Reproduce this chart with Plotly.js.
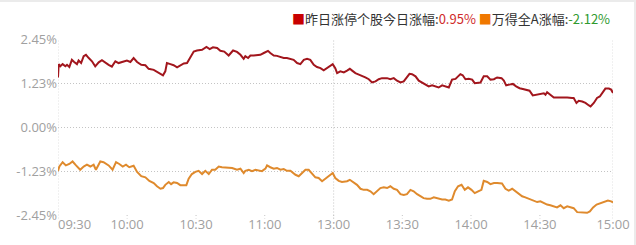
<!DOCTYPE html>
<html>
<head>
<meta charset="utf-8">
<script src="https://cdn.plot.ly/plotly-3.0.1.min.js"></script>
<style>
  html, body { margin: 0; padding: 0; background: #ffffff; }
  #wrap { position: relative; width: 636px; height: 245px; overflow: hidden; }
  #chart { position: absolute; left: 0; top: 0; width: 636px; height: 245px; }
  #bandTop { position: absolute; left: 0; top: 0; width: 636px; height: 2px; background: #ebebeb; }
  #bandRight { position: absolute; left: 634px; top: 0; width: 2px; height: 245px; background: #ebebeb; }
</style>
</head>
<body>
<div id="wrap">
  <div id="chart"></div>
  <div id="bandTop"></div>
  <div id="bandRight"></div>
</div>
<script>
// x = trading minutes since 09:30 (0..240, lunch break removed)
const redT = [0,0.3,1.0,2.0,3.2,3.9,4.9,6.0,7.0,8.2,8.9,10.0,11.1,12.1,13.3,14.7,16.1,17.6,19.0,20.5,21.9,23.3,24.8,26.2,27.7,29.8,31.3,32.7,34.2,36.0,37.8,39.2,
  41.4,42.8,44.3,45.4,46.4,47.1,48.6,50.0,51.5,52.9,54.4,55.8,57.2,58.7,60.1,62.3,64.2,65.6,67.0,68.8,70.2,71.9,73.8,75.7,77.4,78.9,80.3,
  81.0,82.2,83.2,84.6,86.1,87.5,89.0,90.8,91.8,93.3,94.7,96.2,97.6,99.0,100.5,101.9,103.4,104.8,106.3,107.7,109.1,110.6,112.0,113.5,114.9,116.4,117.8,118.8,119.9,120.7,122.1,
  123.6,125.0,126.2,127.2,128.6,130.1,131.5,132.9,134.4,135.8,137.3,138.7,140.1,142.3,143.7,145.2,146.6,148.1,149.5,150.9,152.0,153.1,154.6,156.0,157.4,158.9,160.3,161.8,163.2,164.6,
  166.1,167.5,169.0,170.4,171.9,173.0,174.0,175.0,176.2,177.6,179.1,180.2,181.7,182.7,184.1,185.6,187.0,188.5,189.9,191.8,192.8,193.8,195.2,196.7,198.1,199.6,201.0,202.4,203.9,205.3,
  207.2,208.6,210.1,210.8,211.5,212.9,214.4,215.8,217.3,218.7,220.2,222.3,223.0,224.2,225.2,226.7,228.1,229.6,230.3,231.7,233.1,234.3,235.7,236.7,238.2,239.2,240];
const redV = [1.38,1.75,1.69,1.75,1.69,1.73,1.67,1.87,1.81,1.75,1.85,1.78,1.97,2.01,1.92,1.83,1.69,1.80,1.86,1.78,1.73,1.68,1.83,1.78,1.81,1.85,1.81,1.92,1.81,1.73,1.72,1.62,
  1.59,1.53,1.47,1.44,1.55,1.78,1.75,1.72,1.66,1.72,1.77,1.78,1.92,2.10,2.13,2.15,2.23,2.17,2.22,2.20,2.12,2.10,1.99,2.13,2.09,2.01,1.90,
  1.97,1.92,1.99,1.99,1.99,2.01,2.06,2.12,2.06,1.99,1.98,1.95,1.92,1.92,1.90,1.87,1.78,1.75,1.87,1.90,1.87,1.73,1.67,1.64,1.58,1.64,1.69,1.75,1.64,1.50,1.55,
  1.52,1.57,1.62,1.57,1.50,1.46,1.41,1.38,1.33,1.24,1.27,1.33,1.36,1.36,1.33,1.36,1.29,1.24,1.27,1.38,1.48,1.47,1.41,1.29,1.24,1.20,1.13,1.16,1.13,1.10,
  1.16,1.13,1.10,1.32,1.34,1.41,1.47,1.44,1.33,1.34,1.32,1.22,1.22,1.24,1.41,1.41,1.32,1.33,1.38,1.36,1.29,1.16,1.18,1.20,1.13,1.08,1.06,1.04,1.01,0.88,
  0.90,0.92,0.94,0.90,0.97,0.90,0.82,0.82,0.82,0.84,0.82,0.81,0.81,0.67,0.73,0.71,0.67,0.60,0.57,0.67,0.81,0.85,0.99,1.07,1.07,1.04,0.95];

const orgT = [0,0.6,2.0,3.4,4.9,6.3,7.8,9.6,11.1,12.5,14.0,15.4,16.4,18.3,19.7,21.9,23.6,25.1,26.5,28.0,29.4,30.8,32.7,34.2,36.0,37.8,39.5,
  41.4,42.8,44.3,45.4,46.4,47.9,48.9,50.0,51.5,52.9,54.4,55.5,56.5,57.9,59.4,60.8,62.3,63.7,65.2,66.6,68.0,69.5,70.9,73.1,75.3,77.4,78.9,80.3,
  81.0,82.5,83.9,85.4,86.8,88.2,89.7,90.4,91.8,93.3,94.7,96.2,97.6,99.0,100.5,102.7,104.1,105.5,107.0,108.4,109.9,111.3,112.7,114.2,115.6,117.1,118.8,119.9,121.4,122.8,
  123.6,125.0,126.2,127.9,129.3,130.8,132.2,133.7,135.1,136.5,138.0,139.4,140.9,142.3,143.7,145.2,146.6,148.1,149.5,150.9,152.4,153.8,155.3,156.7,158.1,159.6,161.0,162.5,
  164.7,166.1,167.5,169.0,170.4,171.6,173.0,174.5,175.9,177.3,178.8,180.2,181.7,183.1,184.1,185.6,187.0,188.5,189.9,192.0,193.5,194.9,196.4,197.8,199.2,200.7,202.1,203.6,
  205.7,207.2,208.6,210.1,211.5,212.9,214.4,215.8,217.3,218.7,220.2,221.6,223.0,224.5,225.9,227.4,228.8,230.0,231.4,232.9,234.6,236.0,237.8,239.2,240];
const orgV = [-1.22,-1.10,-0.98,-1.07,-1.03,-0.96,-1.07,-1.19,-1.10,-1.05,-1.10,-1.05,-1.19,-0.96,-0.98,-1.07,-1.19,-0.98,-1.03,-1.10,-1.05,-1.12,-1.08,-1.25,-1.37,-1.40,-1.50,
  -1.56,-1.65,-1.72,-1.70,-1.61,-1.53,-1.59,-1.54,-1.56,-1.62,-1.63,-1.62,-1.44,-1.31,-1.25,-1.22,-1.31,-1.22,-1.31,-1.19,-1.19,-1.10,-1.12,-1.14,-1.14,-1.19,-1.16,-1.28,
  -1.22,-1.19,-1.23,-1.19,-1.22,-1.23,-1.16,-1.07,-1.12,-1.16,-1.14,-1.19,-1.17,-1.22,-1.22,-1.33,-1.37,-1.28,-1.19,-1.19,-1.31,-1.40,-1.42,-1.51,-1.44,-1.37,-1.28,-1.42,-1.50,-1.53,
  -1.53,-1.51,-1.47,-1.56,-1.61,-1.72,-1.75,-1.75,-1.79,-1.87,-1.77,-1.70,-1.68,-1.70,-1.65,-1.72,-1.75,-1.87,-1.89,-1.87,-1.75,-1.79,-1.87,-1.93,-1.98,-2.00,-2.00,-1.96,
  -2.00,-2.02,-2.02,-2.05,-2.02,-1.79,-1.65,-1.61,-1.75,-1.68,-1.75,-1.84,-1.79,-1.75,-1.50,-1.53,-1.59,-1.56,-1.56,-1.57,-1.72,-1.77,-1.72,-1.79,-1.87,-1.93,-1.96,-2.00,
  -2.07,-2.09,-2.07,-2.12,-2.16,-2.18,-2.21,-2.24,-2.18,-2.26,-2.21,-2.24,-2.26,-2.37,-2.38,-2.39,-2.39,-2.35,-2.24,-2.16,-2.12,-2.07,-2.05,-2.07,-2.10];

const xTickPos = [29.9, 59.7, 89.4, 119.2, 148.9, 178.6, 208.4, 240];
const xTickText = ['10:00','10:30','11:00','13:00','13:30','14:00','14:30','15:00'];
const firstTickText = '09:30';
const yTickVals = [2.45, 1.225, 0, -1.225, -2.45];
const yTickText = ['2.45%','1.23%','0.00%','-1.23%','-2.45%'];
const vGridPos = [0, 119.2, 240];

const seriesName1 = '昨日涨停个股今日涨幅';
const seriesName2 = '万得全A涨幅';
const lastVal1 = '0.95%';
const lastVal2 = '-2.12%';

const gridDash = '1px,2px';
const gridColor = '#c4c4c4';
const tickFont = {family: 'Open Sans, Liberation Sans, sans-serif', size: 13, color: '#a0a0a0'};

const traces = [
  {x: redT, y: redV, type: 'scatter', mode: 'lines', name: seriesName1,
   line: {color: '#a2161d', width: 2}, hoverinfo: 'skip'},
  {x: orgT, y: orgV, type: 'scatter', mode: 'lines', name: seriesName2,
   line: {color: '#df8a2d', width: 2}, hoverinfo: 'skip'}
];

// vertical dotted grid lines (09:30, 13:00, 15:00)
const shapes = vGridPos.map(p => ({
  type: 'line', xref: 'x', yref: 'paper', x0: p, x1: p, y0: -0.02, y1: 1,
  line: {color: gridColor, width: 1, dash: gridDash}, layer: 'below'
}));
// short tick marks below the axis
xTickPos.slice(0, -1).forEach(p => shapes.push({
  type: 'line', xref: 'x', yref: 'paper', x0: p, x1: p, y0: 0, y1: -0.02,
  line: {color: gridColor, width: 1, dash: gridDash}, layer: 'below'
}));

const legendText =
  '<span style="color:#c80000">■</span>' + seriesName1 + ':' +
  '<span style="color:#d02a2a">' + lastVal1 + '</span> ' +
  '<span style="color:#f07800">■</span>' + seriesName2 + ':' +
  '<span style="color:#2f9a2f">' + lastVal2 + '</span>';

const layout = {
  width: 636, height: 245,
  margin: {l: 58, r: 23, t: 39, b: 30, pad: 0},
  paper_bgcolor: 'rgba(0,0,0,0)', plot_bgcolor: 'rgba(0,0,0,0)',
  showlegend: false,
  xaxis: {
    range: [0, 240], showgrid: false, zeroline: false, showline: false,
    tickmode: 'array', tickvals: xTickPos, ticktext: xTickText,
    ticks: '', tickfont: tickFont, fixedrange: true
  },
  yaxis: {
    range: [-2.45, 2.45], showgrid: true, gridcolor: gridColor, griddash: gridDash, gridwidth: 1,
    zeroline: false, showline: false,
    tickmode: 'array', tickvals: yTickVals, ticktext: yTickText,
    ticks: '', tickfont: tickFont, fixedrange: true
  },
  shapes: shapes,
  annotations: [
    {text: firstTickText, xref: 'x', yref: 'paper', x: 0, y: 0, xanchor: 'left', yanchor: 'top',
     xshift: -2, yshift: 2, showarrow: false, font: tickFont},
    {text: legendText, xref: 'paper', yref: 'paper', x: 1, y: 1.114, xanchor: 'right', yanchor: 'middle',
     xshift: -1, showarrow: false,
     font: {family: 'Noto Sans CJK SC, sans-serif', size: 13, color: '#333333'}}
  ]
};

Plotly.newPlot('chart', traces, layout, {displayModeBar: false, staticPlot: true});
</script>
</body>
</html>
